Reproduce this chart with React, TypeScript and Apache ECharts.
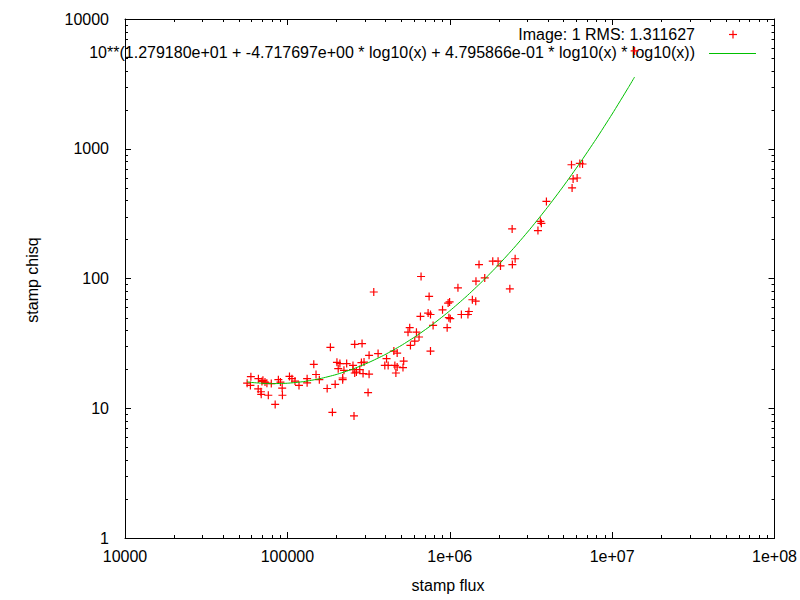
import React, { useEffect, useRef } from "react";
import * as echarts from "echarts";

// ---- data ----
const FLUX = [
  56500, 59600, 59200, 66300, 66100, 68700, 69000, 70700, 72800, 74800, 69700,
  76300, 79600, 84100, 88000, 90600, 92900, 93200, 103000, 106700, 111400, 117900,
  132300, 132300, 145400, 150100, 157300, 175800, 196900, 189300, 184000, 201900,
  210600, 231800, 253500, 219000, 219000, 223000, 205600, 253500, 266100, 279100,
  259800, 292400, 318500, 285700, 296500, 259800, 288300, 318500, 361900, 314000,
  257200, 340400, 408000, 452600, 474300, 398100, 417400, 459100, 474300, 520200,
  515100, 465800, 553200, 623400, 572600, 608500, 646800, 566700, 665600, 659800,
  746100, 735500, 760800, 760800, 789500, 902500, 963700, 987400, 1007000, 977000,
  997600, 1123000, 1179000, 1294000, 1312000, 1378000, 1445000, 1450000, 1514000,
  1642000, 1840000, 1984000, 2053000, 2344000, 2429000, 2527000, 2422000, 3492000,
  3613000, 3666000, 3937000, 5666000, 5618000, 5748000, 6086000, 6323000, 6571000,
  13750000,
];
const CHISQ = [
  15.6, 17.5, 15.0, 16.9, 14.1, 13.4, 12.8, 16.4, 15.9, 15.6, 16.1,
  12.6, 15.5, 10.7, 16.6, 15.9, 14.3, 12.6, 17.6, 16.9, 16.2, 15.0,
  16.9, 15.7, 21.8, 18.2, 16.6, 14.2, 15.3, 9.3, 29.5, 22.6,
  22.1, 22.1, 21.4, 17.1, 16.6, 19.6, 20.2, 19.85, 19.0, 19.85,
  18.7, 18.5, 18.3, 22.5, 22.7, 31.1, 31.5, 25.6, 26.4, 13.2,
  8.73, 78.7, 24.1, 27.6, 26.6, 21.4, 21.4, 21.4, 20.8, 23.1,
  20.6, 18.7, 38.6, 38.6, 30.5, 32.9, 35.4, 41.8, 103.6, 51.0,
  72.7, 54.1, 52.8, 27.6, 43.5, 57.4, 41.8, 49.9, 49.0, 64.6,
  66.0, 84.8, 52.8, 52.8, 55.7, 68.6, 66.9, 95.3, 128,
  101, 136, 136, 125, 83.3, 128, 142, 241, 234,
  276, 266, 393, 499, 753, 585, 595, 771, 763,
  5670,
];
const FIT_FLUX = [
  56500, 63100, 79430, 100000, 125900, 158500, 199500, 251200, 316200, 398100,
  501200, 631000, 794300, 1000000, 1259000, 1585000, 1995000, 2512000, 3162000,
  3981000, 5012000, 6310000, 7943000, 10000000, 12590000, 13750000,
];
const FIT_CHISQ = [
  15.96, 15.72, 15.48, 15.59, 16.05, 16.9, 18.18, 20.0, 22.49, 25.85,
  30.39, 36.51, 44.85, 56.34, 72.33, 94.93, 127.4, 174.8, 245.1,
  351.4, 515.1, 772.0, 1182, 1852, 2966, 3573,
];
const X_TICK_LABELS = ["10000", "100000", "1e+06", "1e+07", "1e+08"];
const Y_TICK_LABELS = ["1", "10", "100", "1000", "10000"];
const X_DECADES = [1e4, 1e5, 1e6, 1e7];
const Y_DECADES = [1, 10, 100, 1000];
const MINOR_MULTIPLIERS = [2, 3, 4, 5, 6, 7, 8, 9];

const SCATTER_NAME = "Image: 1 RMS: 1.311627";
const FIT_NAME =
  "10**(1.279180e+01 + -4.717697e+00 * log10(x) + 4.795866e-01 * log10(x) * log10(x))";
const X_TITLE = "stamp flux";
const Y_TITLE = "stamp chisq";

const FONT = '"Liberation Sans", Arial, sans-serif';
const FS = 16;
const RED = "#ff0000";
const GREEN = "#00c000";

export default function App() {
  const ref = useRef<HTMLDivElement>(null);

  useEffect(() => {
    const chart = echarts.init(ref.current as HTMLDivElement, null, { renderer: "svg" });

    const scatterData = FLUX.map((x, i) => [x, CHISQ[i]]);
    const fitData = FIT_FLUX.map((x, i) => [x, FIT_CHISQ[i]]);
    const minorX: number[][] = [];
    X_DECADES.forEach((d) => MINOR_MULTIPLIERS.forEach((m) => minorX.push([d * m, 10])));
    const minorY: number[][] = [];
    Y_DECADES.forEach((d) => MINOR_MULTIPLIERS.forEach((m) => minorY.push([1e5, d * m])));

    const axisLine = { show: true, onZero: false, lineStyle: { color: "#000", width: 1 } };
    const axisTick = { show: true, inside: true, length: 6, lineStyle: { color: "#000", width: 1 } };

    const xLabel = (v: number) => X_TICK_LABELS[Math.round(Math.log10(v)) - 4] ?? "";
    const yLabel = (v: number) => Y_TICK_LABELS[Math.round(Math.log10(v))] ?? "";

    chart.setOption({
      animation: false,
      backgroundColor: "#fff",
      grid: { left: 125, right: 25, top: 19, bottom: 62, containLabel: false },
      xAxis: [
        {
          type: "log",
          logBase: 10,
          min: 1e4,
          max: 1e8,
          position: "bottom",
          axisLine,
          axisTick,
          splitLine: { show: false },
          minorTick: { show: false },
          axisLabel: {
            formatter: xLabel,
            color: "#000",
            fontSize: FS,
            fontFamily: FONT,
            margin: 10,
            hideOverlap: false,
          },
        },
        {
          type: "log",
          logBase: 10,
          min: 1e4,
          max: 1e8,
          position: "top",
          axisLine,
          axisTick,
          splitLine: { show: false },
          axisLabel: { show: false },
        },
      ],
      yAxis: [
        {
          type: "log",
          logBase: 10,
          min: 1,
          max: 10000,
          position: "left",
          axisLine,
          axisTick,
          splitLine: { show: false },
          axisLabel: {
            formatter: yLabel,
            color: "#000",
            fontSize: FS,
            fontFamily: FONT,
            margin: 16,
            hideOverlap: false,
          },
        },
        {
          type: "log",
          logBase: 10,
          min: 1,
          max: 10000,
          position: "right",
          axisLine,
          axisTick,
          splitLine: { show: false },
          axisLabel: { show: false },
        },
      ],
      series: [
        {
          type: "custom",
          name: "minorX",
          silent: true,
          clip: false,
          xAxisIndex: 0,
          yAxisIndex: 0,
          data: minorX,
          renderItem: (params: any, api: any) => {
            const p = api.coord([api.value(0), api.value(1)]);
            const cs = params.coordSys;
            const x = Math.round(p[0]) + 0.5;
            const st = { stroke: "#000", lineWidth: 1 };
            return {
              type: "group",
              children: [
                { type: "line", shape: { x1: x, y1: cs.y + cs.height, x2: x, y2: cs.y + cs.height - 3 }, style: st },
                { type: "line", shape: { x1: x, y1: cs.y, x2: x, y2: cs.y + 3 }, style: st },
              ],
            };
          },
        },
        {
          type: "custom",
          name: "minorY",
          silent: true,
          clip: false,
          xAxisIndex: 0,
          yAxisIndex: 0,
          data: minorY,
          renderItem: (params: any, api: any) => {
            const p = api.coord([api.value(0), api.value(1)]);
            const cs = params.coordSys;
            const y = Math.round(p[1]) + 0.5;
            const st = { stroke: "#000", lineWidth: 1 };
            return {
              type: "group",
              children: [
                { type: "line", shape: { x1: cs.x, y1: y, x2: cs.x + 3, y2: y }, style: st },
                { type: "line", shape: { x1: cs.x + cs.width, y1: y, x2: cs.x + cs.width - 3, y2: y }, style: st },
              ],
            };
          },
        },
        {
          type: "scatter",
          name: SCATTER_NAME,
          data: scatterData,
          symbol: "path://M0,4L8,4M4,0L4,8",
          symbolSize: 8,
          itemStyle: { color: "none", borderColor: RED, borderWidth: 1.2, opacity: 1 },
          silent: true,
        },
        {
          type: "line",
          name: FIT_NAME,
          data: fitData,
          showSymbol: false,
          symbol: "none",
          smooth: 0.2,
          lineStyle: { color: GREEN, width: 1 },
          silent: true,
        },
      ],
      graphic: [
        {
          type: "text",
          x: 695,
          y: 34,
          style: { text: SCATTER_NAME, align: "right", verticalAlign: "middle", fontSize: FS, fontFamily: FONT, fill: "#000" },
        },
        { type: "line", shape: { x1: 729, y1: 34.5, x2: 737, y2: 34.5 }, style: { stroke: RED, lineWidth: 1.2 } },
        { type: "line", shape: { x1: 733, y1: 30.5, x2: 733, y2: 38.5 }, style: { stroke: RED, lineWidth: 1.2 } },
        {
          type: "text",
          x: 695,
          y: 52,
          style: { text: FIT_NAME, align: "right", verticalAlign: "middle", fontSize: FS, fontFamily: FONT, fill: "#000" },
        },
        { type: "line", shape: { x1: 709, y1: 53.5, x2: 756, y2: 53.5 }, style: { stroke: GREEN, lineWidth: 1 } },
        {
          type: "text",
          x: 448,
          y: 585,
          style: { text: X_TITLE, align: "center", verticalAlign: "middle", fontSize: FS, fontFamily: FONT, fill: "#000" },
        },
        {
          type: "text",
          x: 32,
          y: 280,
          rotation: Math.PI / 2,
          style: { text: Y_TITLE, align: "center", verticalAlign: "middle", fontSize: FS, fontFamily: FONT, fill: "#000" },
        },
      ],
    });

    return () => chart.dispose();
  }, []);

  return (
    <div
      ref={ref}
      style={{ position: "absolute", left: 0, top: 0, width: 800, height: 600, background: "#fff" }}
    />
  );
}
